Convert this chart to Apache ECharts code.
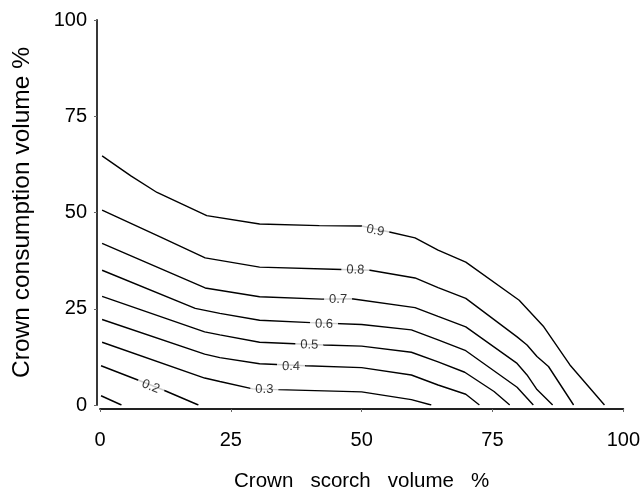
<!DOCTYPE html>
<html>
<head>
<meta charset="utf-8">
<script src="https://cdn.jsdelivr.net/npm/echarts@6/dist/echarts.min.js"></script>
<style>html,body{margin:0;padding:0;background:#fff}#c{width:643px;height:497px}</style>
</head>
<body>
<div id="c"></div>
<script>
// Axis ticks
const xTicks = [0, 25, 50, 75, 100];
const yTicks = [0, 25, 50, 75, 100];

// Contour lines: [crown scorch %, crown consumption %]
const c09 = [[0.4,64.7],[5.9,59.5],[10.9,55.2],[20.4,49.2],[30.5,47.0],[41.9,46.6],[50,46.5],[55.1,45.0],[60.2,43.4],[64.6,40.2],[69.9,37.1],[80.1,27.2],[84.8,20.3],[89.8,10.4],[96.4,0]];
const c08 = [[0.4,50.6],[11.6,43.6],[20.1,38.2],[30.5,35.8],[46.2,35.2],[51.6,35.0],[60.2,33.0],[64.6,30.5],[69.9,27.7],[79.7,17.7],[81.6,15.6],[83.5,12.6],[85.7,10.0],[90.5,0]];
const c07 = [[0.4,42.0],[20.1,30.4],[30.5,28.1],[42.4,27.5],[48.1,27.6],[60.2,25.3],[64.6,23.0],[69.9,20.3],[79.7,10.8],[81.6,7.8],[83.5,4.0],[86.5,0]];
const c06 = [[0.4,35.0],[18.2,25.1],[22.9,23.8],[30.5,22.0],[40.3,21.4],[50,20.9],[59.5,19.5],[64.6,16.9],[69.9,14.1],[79.7,4.6],[82.8,0]];
const c05 = [[0.4,28.2],[20,19.0],[22.9,18.2],[30.5,16.3],[42.8,15.6],[50,15.3],[59.5,13.7],[64.6,11.2],[69.7,8.5],[75.3,3.5],[78.3,0]];
const c04 = [[0.4,22.2],[20,13.2],[22.9,12.3],[30.5,10.7],[39.3,10.2],[50,9.7],[59.5,7.8],[64.6,5.2],[69.9,2.8],[72.5,0]];
const c03 = [[0.4,16.3],[20,7.0],[22.9,6.1],[29.2,4.2],[33.9,4.0],[50,3.4],[59.5,1.4],[63.3,0]];
const c02 = [[0.2,10.2],[9.7,5.2],[12.1,3.9],[18.8,0]];
const c01 = [[0.2,2.4],[4.1,0]];

// Contour labels
const labelText = ['0.9','0.8','0.7','0.6','0.5','0.4','0.3','0.2'];
const labelPos = [[52.6,45.3],[48.8,35.1],[45.5,27.4],[42.8,21.0],[40.0,15.6],[36.5,10.0],[31.4,4.0],[9.7,4.8]];
const labelAngle = [-12, -2, 0, -1, -1, -1, 0, -22];

const contours = [c09, c08, c07, c06, c05, c04, c03, c02, c01];

const chart = echarts.init(document.getElementById('c'), null, {renderer: 'canvas'});
const font = 'Liberation Sans';

const series = contours.map(d => ({
  type: 'line', data: d, symbol: 'none', smooth: false, silent: true,
  lineStyle: {color: '#000', width: 1.4}, z: 2
}));
series.push({
  type: 'scatter', symbolSize: 0, z: 5, silent: true,
  data: labelPos.map((p, i) => ({
    value: p,
    label: {
      show: true, position: 'inside', formatter: labelText[i], rotate: labelAngle[i],
      fontFamily: font, fontSize: 13, color: '#000',
      backgroundColor: '#fff', padding: [1, 5]
    }
  }))
});

chart.setOption({
  animation: false,
  backgroundColor: '#fff',
  grid: {left: 100, right: 17, top: 20, bottom: 90, containLabel: false},
  xAxis: {
    type: 'value', min: 0, max: 100, interval: 25, offset: 4,
    name: 'Crown   scorch   volume   %', nameLocation: 'middle', nameGap: 62,
    nameTextStyle: {fontFamily: font, fontSize: 20.5, color: '#000'},
    axisLine: {show: true, onZero: false, lineStyle: {color: '#222', width: 1.8}},
    axisTick: {show: true, length: 3, lineStyle: {color: '#666', width: 1}},
    axisLabel: {fontFamily: font, fontSize: 20, color: '#000', margin: 21,
      formatter: v => xTicks.includes(v) ? String(v) : ''},
    splitLine: {show: false}
  },
  yAxis: {
    type: 'value', min: 0, max: 100, interval: 25, offset: 3,
    name: 'Crown consumption volume %', nameLocation: 'middle', nameGap: 62, nameRotate: 90,
    nameTextStyle: {fontFamily: font, fontSize: 24.5, color: '#000'},
    axisLine: {show: true, onZero: false, lineStyle: {color: '#222', width: 1.8}},
    axisTick: {show: true, length: 3, lineStyle: {color: '#666', width: 1}},
    axisLabel: {fontFamily: font, fontSize: 20, color: '#000', margin: 10,
      formatter: v => yTicks.includes(v) ? String(v) : ''},
    splitLine: {show: false}
  },
  series: series
});
</script>
</body>
</html>
